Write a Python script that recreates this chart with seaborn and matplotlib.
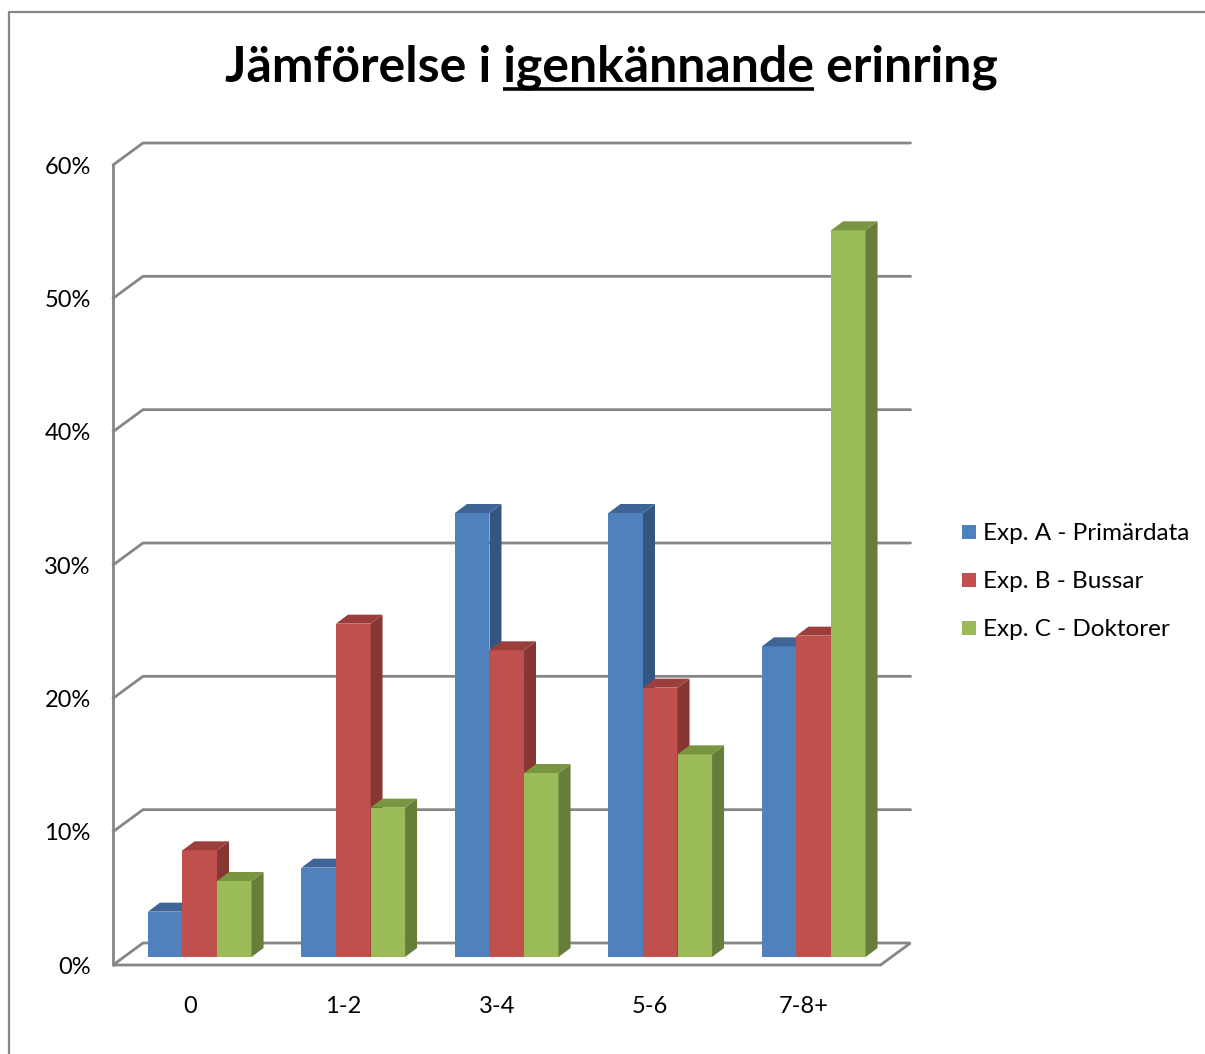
import matplotlib
matplotlib.use("Agg")
import numpy as np
import pandas as pd
import matplotlib.pyplot as plt
import matplotlib.transforms as mtransforms
from matplotlib.patches import Polygon, Rectangle
from matplotlib.lines import Line2D
import seaborn as sns

# ---- data -------------------------------------------------------------
kategorier = ["0", "1-2", "3-4", "5-6", "7-8+"]
serier = ["Exp. A - Primärdata", "Exp. B - Bussar", "Exp. C - Doktorer"]
exp_a = [3.4, 6.7, 33.3, 33.3, 23.3]
exp_b = [8.0, 25.0, 23.0, 20.2, 24.1]
exp_c = [5.7, 11.2, 13.8, 15.2, 54.5]
y_ticks = [0, 10, 20, 30, 40, 50, 60]
y_tick_labels = ["0%", "10%", "20%", "30%", "40%", "50%", "60%"]
titel_fore = "Jämförelse i"
titel_mitt = "igenkännande"
titel_efter = "erinring"

# ---- styling ----------------------------------------------------------
front_col = ["#4F81BD", "#C0504D", "#9BBB59"]
side_col = ["#34557F", "#873634", "#677D3A"]
top_col = ["#3E6596", "#9C3E3B", "#7A9540"]
grid_col = "#868686"

sns.set_theme(style="white")
plt.rcParams["font.family"] = ["Lato", "DejaVu Sans"]

W, H = 1205, 1054
fig = plt.figure(figsize=(W / 100, H / 100), dpi=100, facecolor="white")

# front plane of the 3D box (left/bottom front edges)
ax = fig.add_axes([113 / W, (H - 965) / H, 767.5 / W, 800 / H])

df = pd.DataFrame({
    "kategori": kategorier * 3,
    "serie": [s for s in serier for _ in kategorier],
    "andel": exp_a + exp_b + exp_c,
})

sns.barplot(data=df, x="kategori", y="andel", hue="serie", order=kategorier,
            hue_order=serier, palette=front_col, saturation=1, width=0.675,
            errorbar=None, linewidth=0, legend=False, ax=ax)

ax.set_xlim(-0.5, 4.5)
ax.set_ylim(0, 60)

# pixel -> data unit conversion for the oblique depth
px_x = 5.0 / 767.5
px_y = 60.0 / 800.0
bar_off = (10 * px_x, 8 * px_y)      # bars sit a little behind the front plane
bar_depth = (12 * px_x, 9 * px_y)    # depth of each column
wall = (30 * px_x, 22 * px_y)        # back wall

# back wall gridlines with left-wall diagonals
for v in y_ticks[1:]:
    ax.add_line(Line2D([-0.5, -0.5 + wall[0], 4.5 + wall[0]],
                       [v, v + wall[1], v + wall[1]],
                       color=grid_col, lw=2.0, zorder=0.5, clip_on=False,
                       solid_joinstyle="miter"))
# floor outline
ax.add_patch(Polygon([(-0.5, 0), (4.5, 0), (4.5 + wall[0], wall[1]),
                      (-0.5 + wall[0], wall[1])], closed=True, fill=False,
                     edgecolor=grid_col, lw=2.0, zorder=0.5, clip_on=False))
# left front edge
ax.add_line(Line2D([-0.5, -0.5], [0, 60], color=grid_col, lw=2.0,
                   zorder=0.6, clip_on=False))

# turn the flat bars into oblique 3D columns
shift = mtransforms.Affine2D().translate(*bar_off) + ax.transData
bars = sorted([p for p in ax.patches if isinstance(p, Rectangle)
               and p.get_height() > 0], key=lambda p: p.get_x())
dx, dy = bar_depth
for k, p in enumerate(bars):
    s = k % 3
    x, w, h = p.get_x(), p.get_width(), p.get_height()
    z = 3 + k * 0.01
    p.set_transform(shift)
    p.set_zorder(z)
    p.set_clip_on(False)
    ax.add_patch(Polygon([(x + w, 0), (x + w + dx, dy), (x + w + dx, h + dy),
                          (x + w, h)], closed=True, facecolor=side_col[s],
                         edgecolor="none", transform=shift, zorder=z,
                         clip_on=False))
    ax.add_patch(Polygon([(x, h), (x + w, h), (x + w + dx, h + dy),
                          (x + dx, h + dy)], closed=True, facecolor=top_col[s],
                         edgecolor="none", transform=shift, zorder=z,
                         clip_on=False))

for sp in ax.spines.values():
    sp.set_visible(False)
ax.set_facecolor("none")
ax.set_xlabel("")
ax.set_ylabel("")
ax.set_yticks(y_ticks)
ax.set_yticklabels(y_tick_labels)
ax.set_xticks(range(len(kategorier)))
ax.set_xticklabels(kategorier)
ax.tick_params(axis="y", length=0, pad=16, labelsize=17, labelcolor="black")
ax.tick_params(axis="x", length=0, pad=22, labelsize=17, labelcolor="black")

# legend
for i, (lab, col) in enumerate(zip(serier, front_col)):
    yc = 532 + 48 * i
    fig.patches.append(Rectangle((962 / W, (H - yc - 7) / H), 14 / W, 14 / H,
                                 transform=fig.transFigure, facecolor=col,
                                 edgecolor="none"))
    fig.text(983 / W, (H - yc) / H, lab, ha="left", va="center_baseline",
             fontsize=17.5, color="black")

# title with underlined middle word
titel = f"{titel_fore} {titel_mitt} {titel_efter}"
fs = 36
t = fig.text(611 / W, (H - 81) / H, titel, ha="center", va="baseline",
             fontsize=fs, fontweight="bold", color="black")
r = fig.canvas.get_renderer()
bb = t.get_window_extent(r)


def width_of(s):
    tt = fig.text(0, 0, s, fontsize=fs, fontweight="bold")
    wdt = tt.get_window_extent(r).width
    tt.remove()
    return wdt


w_pre = width_of(f"{titel_fore} {titel_mitt}")
w_mid = width_of(titel_mitt)
x_end = bb.x0 + w_pre
x_start = x_end - w_mid
fig.add_artist(Line2D([x_start / W, x_end / W], [(H - 88.5) / H] * 2,
                      transform=fig.transFigure, color="black", lw=2.6,
                      solid_capstyle="butt"))

# outer chart border
fig.add_artist(Line2D([8.5 / W, 8.5 / W, 1.0], [0.0, (H - 12) / H, (H - 12) / H],
                      transform=fig.transFigure, color=grid_col, lw=1.6))

fig.savefig("out.png", dpi=100, facecolor="white")
